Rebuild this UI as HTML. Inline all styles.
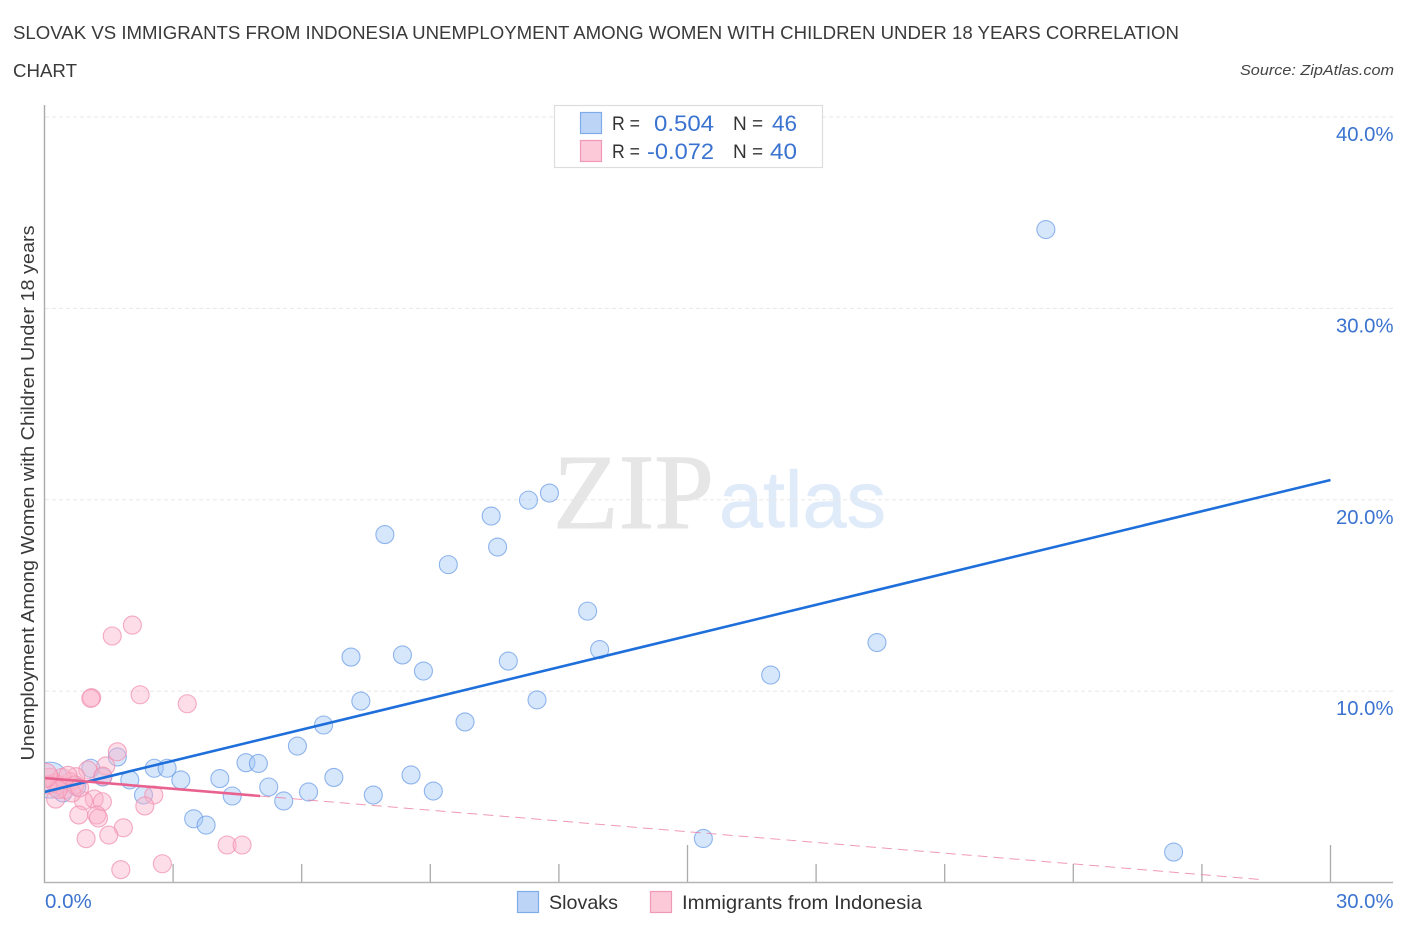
<!DOCTYPE html>
<html>
<head>
<meta charset="utf-8">
<title>Slovak vs Immigrants from Indonesia Correlation Chart</title>
<style>
html,body{margin:0;padding:0;background:#fff;}
svg{display:block;font-family:"Liberation Sans",sans-serif;}
</style>
</head>
<body>
<svg id="chart" width="1406" height="930" viewBox="0 0 1406 930" xmlns="http://www.w3.org/2000/svg">
  <defs>
    <clipPath id="plot-clip"><rect x="45" y="100" width="1350" height="783"/></clipPath>
  </defs>
  <g fill="#3a3a3a" font-size="18.5">
    <text x="13" y="39" textLength="1166" lengthAdjust="spacingAndGlyphs">SLOVAK VS IMMIGRANTS FROM INDONESIA UNEMPLOYMENT AMONG WOMEN WITH CHILDREN UNDER 18 YEARS CORRELATION</text>
    <text x="13" y="77" textLength="64" lengthAdjust="spacingAndGlyphs">CHART</text>
  </g>
  <text x="1394" y="75" text-anchor="end" font-size="15" font-style="italic" fill="#444" textLength="154" lengthAdjust="spacingAndGlyphs">Source: ZipAtlas.com</text>
  <g>
    <text x="553" y="528" font-family="'Liberation Serif',serif" font-size="107" fill="#e6e6e6" stroke="#e6e6e6" stroke-width="1" textLength="161" lengthAdjust="spacingAndGlyphs">ZIP</text>
    <text x="719" y="527" font-family="'Liberation Sans',sans-serif" font-size="80" fill="#e0ebfa" stroke="#e0ebfa" stroke-width="0.6" textLength="167" lengthAdjust="spacingAndGlyphs">atlas</text>
  </g>
  <g id="grid"></g>
  <g id="axes"></g>
  <g id="points" clip-path="url(#plot-clip)"></g>
  <g id="trends" clip-path="url(#plot-clip)"></g>
  <text transform="translate(34,493) rotate(-90)" text-anchor="middle" font-size="18" fill="#3a3a3a" textLength="535" lengthAdjust="spacingAndGlyphs">Unemployment Among Women with Children Under 18 years</text>
  <g>
    <rect x="554.5" y="105.5" width="268" height="62" fill="#fff" stroke="#ddd" stroke-width="1.2"/>
    <rect x="580.5" y="112.5" width="21" height="21" fill="#bcd5f7" stroke="#7fabe8" stroke-width="1.2"/>
    <rect x="580.5" y="140.5" width="21" height="21" fill="#fcc9d9" stroke="#f09ab8" stroke-width="1.2"/>
    <g font-size="19" fill="#333">
      <text x="612" y="130" textLength="28" lengthAdjust="spacingAndGlyphs">R =</text>
      <text x="612" y="158" textLength="28" lengthAdjust="spacingAndGlyphs">R =</text>
      <text x="733" y="130">N =</text>
      <text x="733" y="158">N =</text>
    </g>
    <g font-size="22" fill="#3b73d0">
      <text x="654" y="131" textLength="60" lengthAdjust="spacingAndGlyphs">0.504</text>
      <text x="647" y="159" textLength="67" lengthAdjust="spacingAndGlyphs">-0.072</text>
      <text x="772" y="131" textLength="25" lengthAdjust="spacingAndGlyphs">46</text>
      <text x="770" y="159" textLength="27" lengthAdjust="spacingAndGlyphs">40</text>
    </g>
  </g>
  <g>
    <rect x="517.5" y="891.5" width="21" height="21" fill="#bcd5f7" stroke="#7fabe8" stroke-width="1.2"/>
    <text x="549" y="909" font-size="19.5" fill="#333" textLength="69" lengthAdjust="spacingAndGlyphs">Slovaks</text>
    <rect x="650.5" y="891.5" width="21" height="21" fill="#fcc9d9" stroke="#f09ab8" stroke-width="1.2"/>
    <text x="682" y="909" font-size="19.5" fill="#333" textLength="240" lengthAdjust="spacingAndGlyphs">Immigrants from Indonesia</text>
  </g>
</svg>
<script>
const slovakX = [23.36,26.34,19.42,16.94,15.37,11.78,11.29,10.42,10.57,7.94,9.42,12.67,12.95,10.82,8.35,7.15,8.84,11.49,7.38,9.81,6.51,5.90,4.70,4.99,1.70,2.56,2.86,1.08,1.99,3.18,4.09,1.36,6.75,8.55,5.23,4.38,2.31,5.58,6.16,7.67,9.07,3.48,3.77,0.43,0.75,0.13];
const slovakY = [34.12,1.59,12.54,10.84,2.30,20.35,19.98,19.15,17.53,18.18,16.61,14.18,12.17,11.57,11.89,11.78,11.05,9.54,9.48,8.39,8.23,7.13,6.26,6.22,6.56,5.97,5.97,5.97,5.36,5.36,5.43,5.51,5.49,5.62,4.99,4.52,4.57,4.26,4.73,4.57,4.78,3.33,3.00,4.68,5.00,5.35];
const indonesiaX = [2.05,1.58,1.10,1.08,2.23,3.33,1.70,1.43,1.01,0.73,2.55,2.34,1.16,1.35,0.91,0.80,1.22,1.26,1.84,1.50,0.97,1.78,2.75,4.26,4.61,0.26,0.12,0.24,0.36,0.48,0.60,0.41,0.55,0.71,0.64,0.82,1.36,0.08,0.32,0.02];
const indonesiaY = [13.45,12.88,9.66,9.62,9.81,9.34,6.83,6.09,5.88,5.53,4.57,4.00,4.36,4.22,4.27,3.53,3.53,3.37,2.86,2.48,2.29,0.67,0.98,1.96,1.96,4.36,5.50,5.20,5.10,4.86,5.27,5.49,5.60,5.10,4.68,4.95,5.56,5.10,4.86,5.60];
const xTickValues = [3,6,9,12,15,18,21,24,27,30];
const majorXTicks = [15,30];
const xTickLabels = ["0.0%","30.0%"];
const yTickValues = [10,20,30,40];
const yTickLabels = ["10.0%","20.0%","30.0%","40.0%"];
const slovakTrend = [4.73,21.03];
const indonesiaTrend = [5.46,-0.187];

const svg = document.getElementById('chart');
const NS = 'http://www.w3.org/2000/svg';
function xScale(v){ return 44.5 + v * (1330.5 - 44.5) / 30; }
function yScale(v){ return 882.5 - v * (882.5 - 117) / 40; }
function make(tag, attrs, parent){
  const el = document.createElementNS(NS, tag);
  for (const k in attrs) el.setAttribute(k, attrs[k]);
  parent.appendChild(el);
  return el;
}

const gridG = document.getElementById('grid');
const axesG = document.getElementById('axes');
const pointsG = document.getElementById('points');
const trendsG = document.getElementById('trends');

yTickValues.forEach(function(v, i){
  const line = make('line', {x1:45, x2:1393, y1:yScale(v), y2:yScale(v), stroke:'#e8e8e8', 'stroke-width':1, 'stroke-dasharray':'4 3'}, gridG);
  
  
  const label = make('text', {x:1393.5, y:yScale(v) + 24, 'text-anchor':'end', 'font-size':20.3, fill:'#3b73d0'}, axesG);
  label.textContent = yTickLabels[i];
  
  
});

const yAxis = make('line', {x1:44.5, x2:44.5, y1:105, y2:883, stroke:'#aaa', 'stroke-width':1.4}, axesG);


const xAxis = make('line', {x1:44, x2:1393, y1:882.5, y2:882.5, stroke:'#b5b5b5', 'stroke-width':1.6}, axesG);



xTickValues.forEach(function(v){
  const top = majorXTicks.indexOf(v) >= 0 ? 845 : 864;
  const tick = make('line', {x1:xScale(v), x2:xScale(v), y1:top, y2:882, stroke:'#aaa', 'stroke-width':1.3}, axesG);
  
  
});
const x0Label = make('text', {x:45, y:908, 'font-size':20.5, fill:'#3b73d0'}, axesG);
x0Label.textContent = xTickLabels[0];


const x1Label = make('text', {x:1393.5, y:908, 'text-anchor':'end', 'font-size':20.3, fill:'#3b73d0'}, axesG);
x1Label.textContent = xTickLabels[1];



function drawPoints(xs, ys, fill, stroke, largeIndex, largeR, name){
  xs.forEach(function(v, i){
    const r = i === largeIndex ? largeR : 9;
    const c = make('circle', {cx:xScale(v), cy:yScale(ys[i]), r:r, fill:fill, stroke:stroke, 'stroke-width':1.1}, pointsG);
    
    
  });
}
drawPoints(slovakX, slovakY, 'rgba(160,197,245,0.42)', 'rgba(105,155,230,0.72)', slovakX.length - 1, 18, 'slovak-point');
drawPoints(indonesiaX, indonesiaY, 'rgba(250,180,202,0.45)', 'rgba(240,145,176,0.76)', indonesiaX.length - 1, 12, 'indonesia-point');

const slovakLine = make('line', {x1:xScale(0), y1:yScale(slovakTrend[0]), x2:xScale(30), y2:yScale(slovakTrend[1]), stroke:'#1f6fdb', 'stroke-width':2.6}, trendsG);


function indoY(x){ return indonesiaTrend[0] + indonesiaTrend[1] * x; }
const indoDash = make('line', {x1:xScale(5.03), y1:yScale(indoY(5.03)), x2:xScale(28.4), y2:yScale(indoY(28.4)), stroke:'#ec7fa5', 'stroke-width':1, 'stroke-opacity':0.8, 'stroke-dasharray':'10 6'}, trendsG);


const indoLine = make('line', {x1:xScale(0), y1:yScale(indoY(0)), x2:xScale(5.03), y2:yScale(indoY(5.03)), stroke:'#e9628f', 'stroke-width':2.6}, trendsG);


</script>
</body>
</html>
